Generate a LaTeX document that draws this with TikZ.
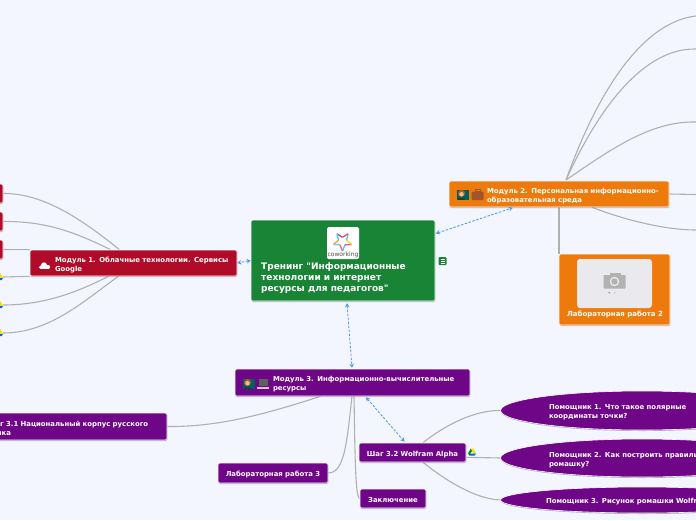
\documentclass[tikz,border=0pt]{standalone}
\usepackage{fontspec}
\setmainfont{DejaVu Sans}[Ligatures=TeXOff]
\usetikzlibrary{calc,shadows,arrows.meta,shapes.geometric}
\pgfdeclarelayer{wires}
\pgfdeclarelayer{paper}
\pgfsetlayers{paper,wires,main}
\definecolor{bgc}{HTML}{F3F6FE}
\definecolor{gr}{HTML}{1A8436}
\definecolor{rd}{HTML}{B00B28}
\definecolor{og}{HTML}{EF7A0C}
\definecolor{pu}{HTML}{6E0687}
\definecolor{ln}{HTML}{B0B0B0}
\definecolor{ar}{HTML}{4A98F0}
\definecolor{pale}{HTML}{E9E9EE}
\definecolor{casec}{HTML}{A0562C}
\tikzset{
 card/.style={rectangle,rounded corners=1.5pt,draw=white,line width=.6pt,inner xsep=0pt,inner ysep=0pt,text=white,align=left,
   font=\bfseries\fontsize{6.9}{9}\selectfont,execute at begin node=\rule{0pt}{8.5pt},
   drop shadow={shadow xshift=.3pt,shadow yshift=-1pt,opacity=.3,fill=black}},
 sized/.style n args={2}{minimum width=#1,text width=#1,minimum height=#2},
 oval/.style={ellipse,draw=white,line width=.6pt,fill=pu,text=white,align=left,inner sep=0pt,
   font=\bfseries\fontsize{6.9}{9}\selectfont,minimum width=280pt,execute at begin node=\rule{0pt}{8.5pt},
   drop shadow={shadow xshift=.3pt,shadow yshift=-1pt,opacity=.3,fill=black}},
 wire/.style={draw=ln,line width=1.1pt},
 link/.style={draw=ar,line width=.8pt,dash pattern=on 2.5pt off 1.5pt,{Stealth[length=4pt,width=4.5pt]}-{Stealth[length=4pt,width=4.5pt]}},
 stub/.style={rectangle,fill=pale,draw=none,rounded corners=1pt,inner sep=0pt},
}
\newcommand{\cloudicon}[1]{\fill[white] ($(#1)+(-3.8,1.2)$) circle (1.9);\fill[white] ($(#1)+(-.5,-.7)$) circle (3);\fill[white] ($(#1)+(3.5,1)$) circle (2.1);\fill[white] ($(#1)+(-3.8,1)$) rectangle ($(#1)+(3.5,3.1)$);}
\newcommand{\personicon}[1]{\fill[teal!75!black] ($(#1)+(-6,-5)$) rectangle ($(#1)+(6,5)$);
 \fill[brown!80!black] ($(#1)+(-1.5,-1.5)$) circle (3.6);\fill[orange!50!white] ($(#1)+(-1.5,-.8)$) circle (2.2);\fill[teal!60!black] ($(#1)+(-5,5)$) rectangle ($(#1)+(2,2.5)$);}
\newcommand{\caseicon}[1]{\fill[casec,rounded corners=1pt] ($(#1)+(-6,-3.5)$) rectangle ($(#1)+(6,5)$);
 \draw[casec,line width=.8pt] ($(#1)+(-2.5,-3.5)$) rectangle ($(#1)+(2.5,-5.2)$);}
\newcommand{\laptopicon}[1]{\fill[gray!75!black] ($(#1)+(-4.5,-5)$) rectangle ($(#1)+(4.5,2)$);\fill[gray!40] ($(#1)+(-6,2.5)$) rectangle ($(#1)+(6,5)$);}
\newcommand{\driveicon}[1]{\fill[yellow!80!orange] ($(#1)+(-1.3,-4)$) -- ($(#1)+(1.3,-4)$) -- ($(#1)+(4,1)$) -- ($(#1)+(1.3,1)$) -- cycle;
 \fill[green!60!black] ($(#1)+(-1.3,-4)$) -- ($(#1)+(-4,1)$) -- ($(#1)+(-2.6,3)$) -- ($(#1)+(0,-1.6)$) -- cycle;
 \fill[blue!60!cyan] ($(#1)+(-2.6,3)$) -- ($(#1)+(2.7,3)$) -- ($(#1)+(4,1)$) -- ($(#1)+(-1.4,1)$) -- cycle;}
\begin{document}
\begin{tikzpicture}[x=1pt,y=-1pt]
\useasboundingbox (0,0) rectangle (696,520);
\begin{pgfonlayer}{paper}
\fill[bgc] (0,0) rectangle (696,520);
\end{pgfonlayer}
\clip (0,0) rectangle (696,520);

% free ends
\coordinate (r5) at (696,230);
\coordinate (hub2) at (566,180);
\coordinate (l4) at (3,277);
\coordinate (l5) at (3,305);
\coordinate (l6) at (3,333);

% nodes
\node[card,fill=gr,minimum width=184pt,minimum height=81pt] (root) at (343,260.5) {};
\node[card,fill=rd,sized={207pt}{26pt}] (m1) at (133.5,263)
 {\hspace*{25pt}Модуль 1. Облачные технологии. Сервисы\\\hspace*{25pt}Google};
\node[card,fill=og,sized={220pt}{26pt}] (m2) at (559,194)
 {\hspace*{38pt}Модуль 2. Персональная информационно-\\\hspace*{38pt}образовательная среда};
\node[card,fill=og,minimum width=111pt,minimum height=71pt] (lab2) at (614.5,289.5) {};
\node[card,fill=pu,sized={235pt}{27pt}] (m3) at (352.5,382.5)
 {\hspace*{38pt}Модуль 3. Информационно-вычислительные\\\hspace*{38pt}ресурсы};
\node[card,fill=pu,sized={213pt}{27pt}] (s31) at (60.5,426.5)
 {\hspace*{33pt}Шаг 3.1 Национальный корпус русского\\\hspace*{33pt}языка};
\node[card,fill=pu,minimum width=107pt,minimum height=19pt,align=center] (s32) at (412.5,452.5) {Шаг 3.2 Wolfram Alpha};
\node[card,fill=pu,minimum width=110pt,minimum height=20pt,align=center] (lab3) at (273,473) {Лабораторная работа 3};
\node[card,fill=pu,minimum width=66pt,minimum height=19pt,align=center] (fin) at (393,498.5) {Заключение};
\node[oval,minimum height=39pt,text width=200pt] (h1) at (642,410.5) {\hspace*{7pt}Помощник 1. Что такое полярные\\\hspace*{7pt}координаты точки?};
\node[oval,minimum height=38pt,text width=200pt] (h2) at (642,458) {\hspace*{7pt}Помощник 2. Как построить правильную\\\hspace*{7pt}ромашку?};
\node[oval,minimum height=26pt,text width=200pt] (h3) at (642,500) {\hspace*{4pt}Помощник 3. Рисунок ромашки Wolfram};

% cut-off neighbours
\node[stub,minimum width=4pt,minimum height=19pt] (a1) at (698,16) {};
\node[stub,minimum width=4pt,minimum height=28pt] (a2) at (698,49) {};
\node[stub,minimum width=4pt,minimum height=100pt] (a3) at (698,122) {};
\node[stub,minimum width=4pt,minimum height=27pt] (a4) at (698,194.5) {};
\node[card,fill=rd,minimum width=13pt,minimum height=19pt] (l1) at (-3.5,193.5) {};
\node[card,fill=rd,minimum width=13pt,minimum height=19pt] (l2) at (-3.5,221.5) {};
\node[card,fill=rd,minimum width=13pt,minimum height=19pt] (l3) at (-3.5,249.5) {};

% connectors, behind the cards
\begin{pgfonlayer}{wires}
\draw[wire] (l1.east) .. controls (45,193) and (85,222) .. ($(m1.north)+(-14,0)$);
\draw[wire] (l2.east) .. controls (45,221) and (75,232) .. ($(m1.north)+(-23,0)$);
\draw[wire] (l3.east) -- ($(m1.north west)+(0,0)$);
\draw[wire] (l4) -- ($(m1.south west)+(0,0)$);
\draw[wire] (l5) .. controls (50,305) and (85,288) .. ($(m1.south)+(-25,0)$);
\draw[wire] (l6) .. controls (50,333) and (85,300) .. ($(m1.south)+(-15,0)$);
\draw[wire] (hub2) .. controls (600,85) and (645,22) .. (a1.west);
\draw[wire] (hub2) .. controls (600,105) and (645,48) .. (a2.west);
\draw[wire] (hub2) .. controls (610,150) and (650,121) .. (a3.west);
\draw[wire] (m2.east) -- (a4.west);
\draw[wire] ($(m2.south)+(33,0)$) .. controls (625,220) and (665,230) .. (r5);
\draw[wire] (m2.south) -- (lab2.north -| m2.south);
\draw[wire] ($(m3.south)+(-32,0)$) .. controls (260,416) and (215,427) .. (s31.east);
\draw[wire] ($(m3.south)+(-.5,0)$) .. controls (347,440) and (345,473) .. (lab3.east);
\draw[wire] ($(m3.south)+(1.5,0)$) .. controls (355,450) and (355,497) .. (fin.west);
\draw[wire] ($(s32.north)+(10.5,0)$) .. controls (445,425) and (475,410) .. (h1.west);
\draw[wire] ($(s32.south east)+(0,-5)$) -- (h2.west);
\draw[wire] ($(s32.south)+(10.5,0)$) .. controls (445,480) and (475,499) .. (h3.west);
\end{pgfonlayer}

% dashed links
\draw[link] (root.west) -- (m1.east);
\draw[link] ($(root.east)+(.5,-27)$) -- ($(m2.south west)+(64,.5)$);
\draw[link] ($(root.south)+(4,2)$) -- ($(m3.north)+(-.5,-1)$);
\draw[link] ($(m3.south)+(13.5,1)$) -- ($(s32.north)+(-8,-1)$);

% root contents
\node[fill=white,rounded corners=1.5pt,minimum size=32pt,inner sep=0pt] (logo) at (343,243) {};
\foreach \a/\b/\c in {-90/-54/cyan!70,-54/-18/magenta!70,-18/18/yellow!80!orange,18/54/cyan!70,54/90/red!70,90/126/violet!70,126/162/cyan!70,162/198/orange!80,198/234/cyan!60,234/270/red!60}{
 \pgfmathsetmacro{\ra}{mod(\a+90,72)==0 ? 9.5 : 4.2}
 \pgfmathsetmacro{\rb}{\ra==9.5 ? 4.2 : 9.5}
 \draw[\c,line width=1.3pt] ($(342.5,241.5)+(\a:\ra pt)$) -- ($(342.5,241.5)+(\b:\rb pt)$);
}
\node[text=black!70,font=\fontsize{6}{6}\selectfont,inner sep=0pt] (logot) at (343,254.7) {coworking};
\node[text=white,font=\bfseries\fontsize{9}{11}\selectfont,align=left,anchor=north west,inner sep=0pt] (rootT) at (261,262.5)
 {Тренинг "Информационные\\технологии и интернет\\ресурсы для педагогов"};
\node[fill=gr,rounded corners=1pt,minimum size=8pt,inner sep=0pt] (note) at (442.5,261) {};
\draw[white,line width=.6pt] (440.5,259) -- (444.5,259) (440.5,261) -- (444.5,261) (440.5,263) -- (444.5,263);

% lab 2 contents
\node[fill=pale,rounded corners=3pt,minimum width=75pt,minimum height=49pt,inner sep=0pt] (ph) at (614.5,283.5) {};
\fill[black!30,rounded corners=.7pt] (603.5,275) rectangle (625.5,288.5);
\fill[black!30] (610,273) rectangle (621,276);
\fill[pale] (614.5,281.5) circle (4.8);
\fill[black!30] (614.5,281.5) circle (3.2);
\fill[black!35] (609.3,292.7) circle (1.1);\fill[black!18] (614.7,292.7) circle (1.1);
\node[text=white,font=\bfseries\fontsize{7}{8}\selectfont,inner sep=0pt] (lab2t) at (615,314.3) {Лабораторная работа 2};

% icons
\cloudicon{44.5,266}
\personicon{463,195}\caseicon{477.5,195}
\personicon{249,384}\laptopicon{263,384}
\driveicon{-1,277}\driveicon{-1,305}\driveicon{-1,333}
\driveicon{472,452.5}
\end{tikzpicture}
\end{document}
